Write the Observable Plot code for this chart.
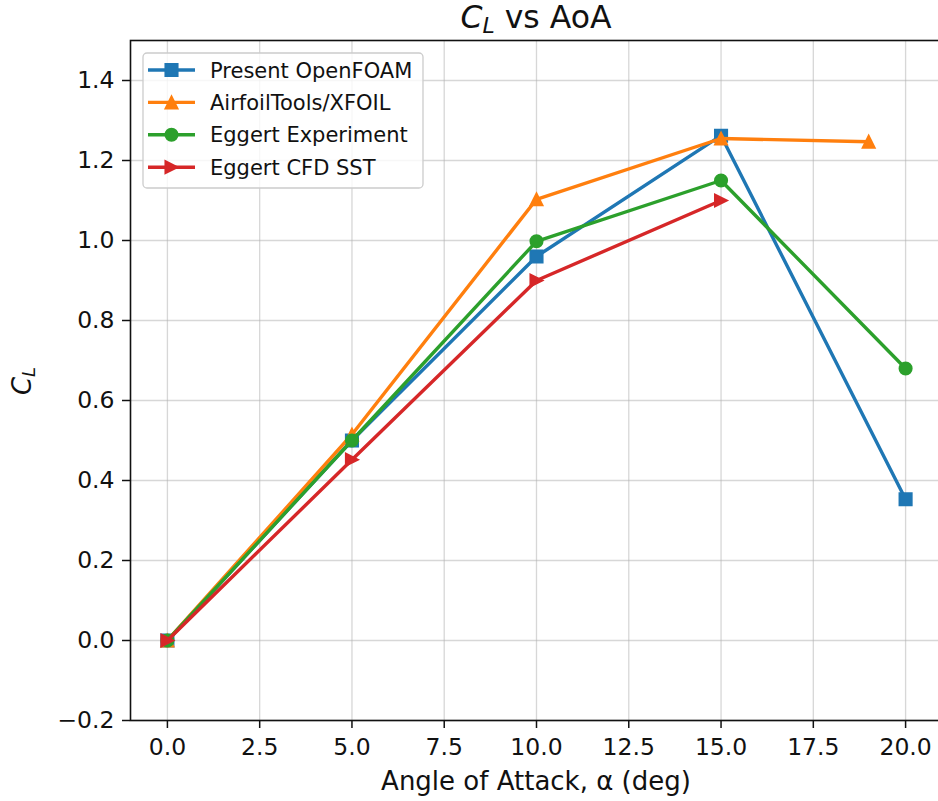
<!DOCTYPE html>
<html>
<head>
<meta charset="utf-8">
<script src="https://cdn.jsdelivr.net/npm/d3@7"></script>
<script src="https://cdn.jsdelivr.net/npm/@observablehq/plot@0.6"></script>
<style>
  html, body { margin: 0; padding: 0; background: #fff; }
  #chart svg { overflow: visible; display: block; }
</style>
</head>
<body>
<div id="chart"></div>
<script>
// ---- data ----
const seriesNames = ["Present OpenFOAM", "AirfoilTools/XFOIL", "Eggert Experiment", "Eggert CFD SST"];
const seriesColors = ["#1f77b4", "#ff7f0e", "#2ca02c", "#d62728"];

const openfoamAoA = [0, 5, 10, 15, 20];
const openfoamCL  = [0, 0.50, 0.96, 1.262, 0.353];

const xfoilAoA = [0, 5, 10, 15, 19];
const xfoilCL  = [0, 0.515, 1.103, 1.255, 1.247];

const expAoA = [0, 5, 10, 15, 20];
const expCL  = [0, 0.50, 0.998, 1.15, 0.68];

const cfdAoA = [0, 5, 10, 15];
const cfdCL  = [0, 0.452, 0.90, 1.10];

const xTicks = [0, 2.5, 5, 7.5, 10, 12.5, 15, 17.5, 20];
const yTicks = [-0.2, 0, 0.2, 0.4, 0.6, 0.8, 1.0, 1.2, 1.4];

const titleMain = "C", titleSub = "L", titleRest = " vs AoA";
const xLabel = "Angle of Attack, α (deg)";
const yLabelMain = "C", yLabelSub = "L";

// ---- matplotlib-like marker shapes ----
function sym(fn) { return { draw(ctx, size) { const h = Math.sqrt(size / Math.PI); fn(ctx, h); } }; }
const squareSym = sym((c, h) => { c.moveTo(-h, -h); c.lineTo(h, -h); c.lineTo(h, h); c.lineTo(-h, h); c.closePath(); });
const triUpSym = sym((c, h) => { c.moveTo(0, -h); c.lineTo(h, h); c.lineTo(-h, h); c.closePath(); });
const triRightSym = sym((c, h) => { c.moveTo(h, 0); c.lineTo(-h, h); c.lineTo(-h, -h); c.closePath(); });
const circleSym = sym((c, h) => { c.moveTo(h, 0); c.arc(0, 0, h, 0, 2 * Math.PI); c.closePath(); });

const seriesData = [
  { name: seriesNames[0], color: seriesColors[0], symbol: squareSym, xs: openfoamAoA, ys: openfoamCL },
  { name: seriesNames[1], color: seriesColors[1], symbol: triUpSym, xs: xfoilAoA, ys: xfoilCL },
  { name: seriesNames[2], color: seriesColors[2], symbol: circleSym, xs: expAoA, ys: expCL },
  { name: seriesNames[3], color: seriesColors[3], symbol: triRightSym, xs: cfdAoA, ys: cfdCL }
];

const MR = 6.2, MSW = 1.7, LW = 3.4;

const marks = [
  Plot.gridX(xTicks, { stroke: "#b0b0b0", strokeOpacity: 0.5, strokeWidth: 1.3 }),
  Plot.gridY(yTicks, { stroke: "#b0b0b0", strokeOpacity: 0.5, strokeWidth: 1.3 }),
  Plot.axisX(xTicks, { tickFormat: d => d.toFixed(1), tickSize: 8, tickPadding: 10, label: null, fill: "#111", stroke: "#111", strokeWidth: 1.5 }),
  Plot.axisY(yTicks, { tickFormat: d3.format(".1f"), tickSize: 8, tickPadding: 8, label: null, fill: "#111", stroke: "#111", strokeWidth: 1.5 })
];

for (const s of seriesData) {
  const pts = s.xs.map((x, i) => ({ x, y: s.ys[i] }));
  marks.push(Plot.line(pts, { x: "x", y: "y", stroke: s.color, strokeWidth: LW, strokeLinejoin: "round", strokeLinecap: "round" }));
  marks.push(Plot.dot(pts, { x: "x", y: "y", symbol: s.symbol, r: MR, fill: s.color, stroke: s.color, strokeWidth: MSW }));
}
marks.push(Plot.frame({ stroke: "#111", strokeWidth: 1.6 }));

const chart = Plot.plot({
  width: 938,
  height: 801,
  marginLeft: 130,
  marginRight: -4,
  marginTop: 40,
  marginBottom: 81,
  x: { domain: [-1, 21] },
  y: { domain: [-0.2, 1.5] },
  style: { fontFamily: "DejaVu Sans", fontSize: "23.5px", background: "#fff", color: "#111" },
  marks
});
document.getElementById("chart").appendChild(chart);

// ---- title, axis labels, legend as real SVG text ----
const svg = d3.select(chart);
const font = "DejaVu Sans";

const t = svg.append("text").attr("x", 536).attr("y", 28).attr("text-anchor", "middle")
  .attr("font-family", font).attr("font-size", 31.5).attr("fill", "#111");
t.append("tspan").attr("font-style", "italic").text(titleMain);
t.append("tspan").attr("font-style", "italic").attr("font-size", 22).attr("dy", 5).text(titleSub);
t.append("tspan").attr("dy", -5).text(titleRest);

svg.append("text").attr("x", 536).attr("y", 790).attr("text-anchor", "middle")
  .attr("font-family", font).attr("font-size", 26).attr("fill", "#111").text(xLabel);

const yl = svg.append("text").attr("transform", "translate(31,381) rotate(-90)").attr("text-anchor", "middle")
  .attr("font-family", font).attr("font-size", 26).attr("fill", "#111");
yl.append("tspan").attr("font-style", "italic").text(yLabelMain);
yl.append("tspan").attr("font-style", "italic").attr("font-size", 18).attr("dy", 4).text(yLabelSub);

const lg = svg.append("g");
lg.append("rect").attr("x", 143).attr("y", 53).attr("width", 280).attr("height", 135).attr("rx", 4)
  .attr("fill", "#fff").attr("fill-opacity", 0.8).attr("stroke", "#cccccc").attr("stroke-width", 1.3);
seriesData.forEach((s, i) => {
  const cy = 70 + i * 32.4;
  lg.append("line").attr("x1", 148).attr("x2", 195).attr("y1", cy).attr("y2", cy)
    .attr("stroke", s.color).attr("stroke-width", LW);
  lg.append("path").attr("transform", `translate(171.5,${cy})`)
    .attr("d", d3.symbol(s.symbol, MR * MR * Math.PI)())
    .attr("fill", s.color).attr("stroke", s.color).attr("stroke-width", MSW);
  lg.append("text").attr("x", 210).attr("y", cy).attr("dy", "0.36em").attr("text-anchor", "start")
    .attr("font-family", font).attr("font-size", 21).attr("fill", "#111").text(s.name);
});
</script>
</body>
</html>
